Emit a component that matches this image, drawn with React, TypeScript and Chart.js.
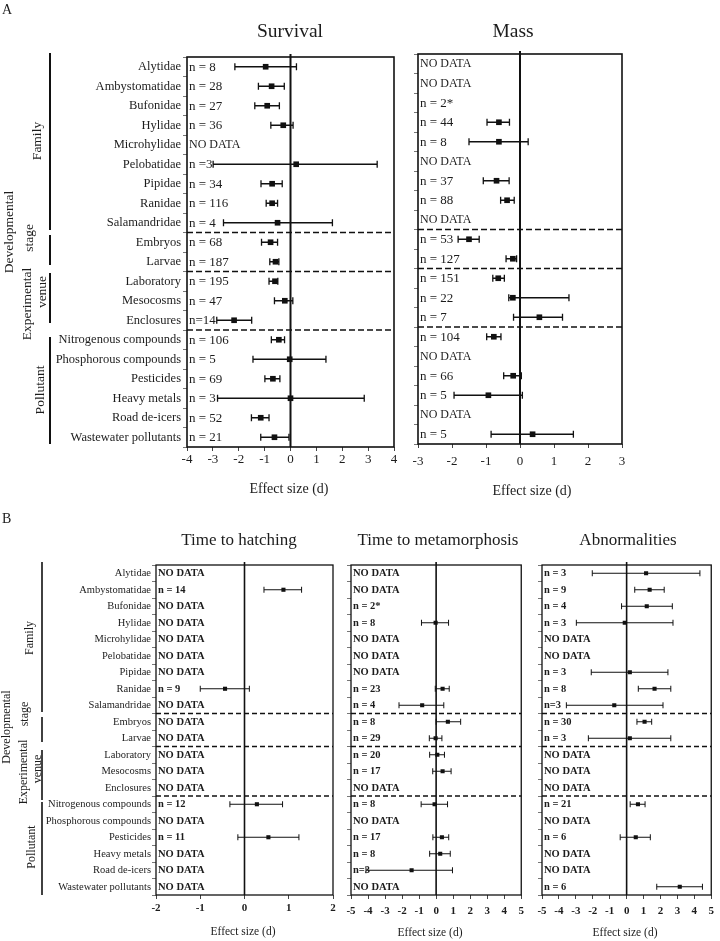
import React, { useEffect, useRef } from 'react';
import { Chart, registerables } from 'chart.js';

Chart.register(...registerables);

const SERIF = '"Liberation Serif", "Times New Roman", serif';
const INK = '#111111';
const TEXT = '#1c1c1c';

// ---------- data ----------
const categories = [
  'Alytidae', 'Ambystomatidae', 'Bufonidae', 'Hylidae', 'Microhylidae', 'Pelobatidae',
  'Pipidae', 'Ranidae', 'Salamandridae', 'Embryos', 'Larvae', 'Laboratory', 'Mesocosms',
  'Enclosures', 'Nitrogenous compounds', 'Phosphorous compounds', 'Pesticides',
  'Heavy metals', 'Road de-icers', 'Wastewater pollutants',
];
const separatorsAfter = [8, 10, 13];

const survivalN = ['n = 8', 'n = 28', 'n = 27', 'n = 36', 'NO DATA', 'n =3', 'n = 34', 'n = 116', 'n = 4',
  'n = 68', 'n = 187', 'n = 195', 'n = 47', 'n=14', 'n = 106', 'n = 5', 'n = 69', 'n = 3', 'n = 52', 'n = 21'];
const survivalMean = [-0.96, -0.73, -0.9, -0.28, null, 0.22, -0.71, -0.71, -0.5, -0.77, -0.58, -0.6, -0.22, -2.18, -0.45, -0.03, -0.68, 0, -1.15, -0.62];
const survivalLow = [-2.15, -1.24, -1.38, -0.76, null, -2.99, -1.14, -0.94, -2.59, -1.12, -0.8, -0.83, -0.62, -2.85, -0.74, -1.45, -0.99, -2.82, -1.51, -1.15];
const survivalHigh = [0.23, -0.24, -0.43, 0.1, null, 3.35, -0.32, -0.5, 1.62, -0.5, -0.45, -0.49, 0.09, -1.5, -0.23, 1.37, -0.41, 2.85, -0.83, -0.06];
const survivalTicks = [-4, -3, -2, -1, 0, 1, 2, 3, 4];

const massN = ['NO DATA', 'NO DATA', 'n = 2*', 'n = 44', 'n = 8', 'NO DATA', 'n = 37', 'n = 88', 'NO DATA',
  'n = 53', 'n = 127', 'n = 151', 'n = 22', 'n = 7', 'n = 104', 'NO DATA', 'n = 66', 'n = 5', 'NO DATA', 'n = 5'];
const massMean = [null, null, null, -0.62, -0.62, null, -0.69, -0.38, null, -1.5, -0.21, -0.64, -0.21, 0.57, -0.77, null, -0.2, -0.93, null, 0.37];
const massLow = [null, null, null, -0.97, -1.5, null, -1.08, -0.57, null, -1.82, -0.41, -0.8, -0.33, -0.19, -0.98, null, -0.48, -1.94, null, -0.85];
const massHigh = [null, null, null, -0.31, 0.24, null, -0.32, -0.17, null, -1.2, -0.1, -0.46, 1.44, 1.25, -0.56, null, 0.04, 0.07, null, 1.57];
const massTicks = [-3, -2, -1, 0, 1, 2, 3];

const hatchN = ['NO DATA', 'n = 14', 'NO DATA', 'NO DATA', 'NO DATA', 'NO DATA', 'NO DATA', 'n = 9', 'NO DATA',
  'NO DATA', 'NO DATA', 'NO DATA', 'NO DATA', 'NO DATA', 'n = 12', 'NO DATA', 'n = 11', 'NO DATA', 'NO DATA', 'NO DATA'];
const hatchMean = [null, 0.88, null, null, null, null, null, -0.44, null, null, null, null, null, null, 0.28, null, 0.54, null, null, null];
const hatchLow = [null, 0.44, null, null, null, null, null, -1.0, null, null, null, null, null, null, -0.33, null, -0.15, null, null, null];
const hatchHigh = [null, 1.29, null, null, null, null, null, 0.11, null, null, null, null, null, null, 0.86, null, 1.23, null, null, null];
const hatchTicks = [-2, -1, 0, 1, 2];

const metaN = ['NO DATA', 'NO DATA', 'n = 2*', 'n = 8', 'NO DATA', 'NO DATA', 'NO DATA', 'n = 23', 'n = 4',
  'n = 8', 'n = 29', 'n = 20', 'n = 17', 'NO DATA', 'n = 8', 'NO DATA', 'n = 17', 'n = 8', 'n=3', 'NO DATA'];
const metaMean = [null, null, null, -0.03, null, null, null, 0.38, -0.82, 0.69, -0.03, 0.07, 0.38, null, -0.09, null, 0.34, 0.24, -1.44, null];
const metaLow = [null, null, null, -0.86, null, null, null, -0.05, -2.18, 0, -0.4, -0.38, -0.2, null, -0.88, null, -0.19, -0.38, -4.12, null];
const metaHigh = [null, null, null, 0.73, null, null, null, 0.77, 0.45, 1.44, 0.34, 0.49, 0.88, null, 0.67, null, 0.74, 0.83, 0.96, null];
const fiveTicks = [-5, -4, -3, -2, -1, 0, 1, 2, 3, 4, 5];

const abnN = ['n = 3', 'n = 9', 'n = 4', 'n = 3', 'NO DATA', 'NO DATA', 'n = 3', 'n = 8', 'n=3',
  'n = 30', 'n = 3', 'NO DATA', 'NO DATA', 'NO DATA', 'n = 21', 'NO DATA', 'n = 6', 'NO DATA', 'NO DATA', 'n = 6'];
const abnMean = [1.15, 1.36, 1.19, -0.11, null, null, 0.19, 1.65, -0.73, 1.06, 0.19, null, null, null, 0.67, null, 0.54, null, null, 3.14];
const abnLow = [-2.03, 0.48, -0.3, -2.97, null, null, -2.09, 0.69, -3.56, 0.61, -2.26, null, null, null, 0.21, null, -0.38, null, null, 1.78];
const abnHigh = [4.33, 2.22, 2.7, 2.74, null, null, 2.44, 2.61, 2.15, 1.48, 2.61, null, null, null, 1.09, null, 1.4, null, null, 4.48];

// ---------- styles ----------
type Style = {
  nSize: number; noDataSize: number; nWeight: string; catSize: number; catWeight: string;
  tickSize: number; tickWeight: string; titleSize: number; axisTitleSize: number; groupSize: number;
  boxW: number; zeroW: number; sepW: number; dash: number[]; barW: number; cap: number;
  markerR: number; groupLineW: number; zeroOver: number;
};
const styleA: Style = {
  nSize: 13, noDataSize: 12, nWeight: 'normal', catSize: 12.5, catWeight: 'normal',
  tickSize: 13, tickWeight: 'normal', titleSize: 19.5, axisTitleSize: 14, groupSize: 13.5,
  boxW: 1.6, zeroW: 2, sepW: 1.6, dash: [6, 3], barW: 1.3, cap: 3.5, markerR: 4, groupLineW: 2, zeroOver: 3,
};
const styleB: Style = {
  nSize: 10.5, noDataSize: 10.5, nWeight: 'bold', catSize: 10.5, catWeight: 'normal',
  tickSize: 11, tickWeight: 'bold', titleSize: 17, axisTitleSize: 11.5, groupSize: 12,
  boxW: 1.3, zeroW: 1.6, sepW: 1.3, dash: [5, 3], barW: 1, cap: 3, markerR: 2.9, groupLineW: 1.6, zeroOver: 3,
};

type Line = { text: string; x: number; cy: number };
type Group = { lines: Line[]; lineX: number; y0: number; y1: number };

interface PanelSpec {
  key: string;
  left: number; top: number; width: number; height: number;
  area: { left: number; right: number; top: number; bottom: number };
  ticks: number[];
  tickPad: number;
  catPad: number;
  mean: (number | null)[]; low: (number | null)[]; high: (number | null)[]; n: string[];
  showCats: boolean;
  style: Style;
  title: { text: string; x: number; y: number };
  axisTitle: { text: string; x: number; y: number };
  groups?: Group[];
  letter?: { text: string; x: number; y: number; size: number };
}

const groupsA: Group[] = [
  { lines: [{ text: 'Family', x: 37, cy: 141 }], lineX: 50, y0: 53, y1: 230 },
  { lines: [{ text: 'Developmental', x: 9, cy: 232 }, { text: 'stage', x: 29, cy: 238 }], lineX: 50, y0: 235, y1: 265 },
  { lines: [{ text: 'Experimental', x: 27, cy: 304 }, { text: 'venue', x: 42, cy: 292 }], lineX: 50, y0: 273, y1: 323 },
  { lines: [{ text: 'Pollutant', x: 40, cy: 390 }], lineX: 50, y0: 337, y1: 444 },
];
const groupsB: Group[] = [
  { lines: [{ text: 'Family', x: 30, cy: 138 }], lineX: 42, y0: 62, y1: 212 },
  { lines: [{ text: 'Developmental', x: 7, cy: 227 }, { text: 'stage', x: 25, cy: 214 }], lineX: 42, y0: 217, y1: 242 },
  { lines: [{ text: 'Experimental', x: 24, cy: 272 }, { text: 'venue', x: 38, cy: 269 }], lineX: 42, y0: 250, y1: 300 },
  { lines: [{ text: 'Pollutant', x: 32, cy: 347 }], lineX: 42, y0: 302, y1: 395 },
];

const panels: PanelSpec[] = [
  {
    key: 'survival', left: 0, top: 0, width: 400, height: 500,
    area: { left: 187, right: 394, top: 57, bottom: 447 }, ticks: survivalTicks, tickPad: 1, catPad: 2,
    mean: survivalMean, low: survivalLow, high: survivalHigh, n: survivalN, showCats: true, style: styleA,
    title: { text: 'Survival', x: 290, y: 32 }, axisTitle: { text: 'Effect size (d)', x: 289, y: 489 },
    groups: groupsA, letter: { text: 'A', x: 2, y: 3, size: 14 },
  },
  {
    key: 'mass', left: 400, top: 0, width: 320, height: 500,
    area: { left: 18, right: 222, top: 54, bottom: 444 }, ticks: massTicks, tickPad: 6, catPad: 2,
    mean: massMean, low: massLow, high: massHigh, n: massN, showCats: false, style: styleA,
    title: { text: 'Mass', x: 113, y: 32 }, axisTitle: { text: 'Effect size (d)', x: 132, y: 491 },
  },
  {
    key: 'hatch', left: 0, top: 500, width: 340, height: 441,
    area: { left: 156, right: 333, top: 65, bottom: 395 }, ticks: hatchTicks, tickPad: 3, catPad: 1,
    mean: hatchMean, low: hatchLow, high: hatchHigh, n: hatchN, showCats: true, style: styleB,
    title: { text: 'Time to hatching', x: 239, y: 41 }, axisTitle: { text: 'Effect size (d)', x: 243, y: 432 },
    groups: groupsB, letter: { text: 'B', x: 2, y: 12, size: 14 },
  },
  {
    key: 'meta', left: 340, top: 500, width: 190, height: 441,
    area: { left: 11, right: 184, top: 65, bottom: 395 }, ticks: fiveTicks, tickPad: 6, catPad: 1,
    mean: metaMean, low: metaLow, high: metaHigh, n: metaN, showCats: false, style: styleB,
    title: { text: 'Time to metamorphosis', x: 98, y: 41 }, axisTitle: { text: 'Effect size (d)', x: 90, y: 433 },
  },
  {
    key: 'abn', left: 530, top: 500, width: 190, height: 441,
    area: { left: 12, right: 187, top: 65, bottom: 395 }, ticks: fiveTicks, tickPad: 6, catPad: 1,
    mean: abnMean, low: abnLow, high: abnHigh, n: abnN, showCats: false, style: styleB,
    title: { text: 'Abnormalities', x: 98, y: 41 }, axisTitle: { text: 'Effect size (d)', x: 95, y: 433 },
  },
];

function font(weight: string, size: number) {
  return `${weight} ${size}px ${SERIF}`;
}

function forestPlugin(p: PanelSpec) {
  const s = p.style;
  return {
    id: 'forest-' + p.key,
    beforeDatasetsDraw(chart: any) {
      const { ctx, chartArea: a } = chart;
      const xs = chart.scales.x;
      const ys = chart.scales.y;
      ctx.save();
      ctx.strokeStyle = INK;
      // dashed separators between groups
      ctx.lineWidth = s.sepW;
      ctx.setLineDash(s.dash);
      for (const b of separatorsAfter) {
        const yy = (ys.getPixelForValue(b) + ys.getPixelForValue(b + 1)) / 2;
        ctx.beginPath();
        ctx.moveTo(a.left, yy);
        ctx.lineTo(a.right, yy);
        ctx.stroke();
      }
      ctx.setLineDash([]);
      // zero line
      const x0 = xs.getPixelForValue(0);
      ctx.lineWidth = s.zeroW;
      ctx.beginPath();
      ctx.moveTo(x0, a.top - s.zeroOver);
      ctx.lineTo(x0, a.bottom);
      ctx.stroke();
      // confidence intervals
      ctx.lineWidth = s.barW;
      p.mean.forEach((m, i) => {
        if (m == null || p.low[i] == null || p.high[i] == null) return;
        const yy = ys.getPixelForValue(i);
        const xl = xs.getPixelForValue(p.low[i]);
        const xh = xs.getPixelForValue(p.high[i]);
        ctx.beginPath();
        ctx.moveTo(xl, yy); ctx.lineTo(xh, yy);
        ctx.moveTo(xl, yy - s.cap); ctx.lineTo(xl, yy + s.cap);
        ctx.moveTo(xh, yy - s.cap); ctx.lineTo(xh, yy + s.cap);
        ctx.stroke();
      });
      ctx.restore();
    },
    afterDraw(chart: any) {
      const { ctx, chartArea: a } = chart;
      const ys = chart.scales.y;
      ctx.save();
      // frame
      ctx.strokeStyle = INK;
      ctx.lineWidth = s.boxW;
      ctx.strokeRect(a.left, a.top, a.right - a.left, a.bottom - a.top);
      // n labels
      ctx.fillStyle = TEXT;
      ctx.textAlign = 'left';
      ctx.textBaseline = 'middle';
      p.n.forEach((t, i) => {
        const yy = ys.getPixelForValue(i);
        ctx.font = font(s.nWeight, t === 'NO DATA' ? s.noDataSize : s.nSize);
        ctx.fillText(t, a.left + 2, yy + 0.5);
      });
      // panel title
      ctx.textAlign = 'center';
      ctx.font = font('normal', s.titleSize);
      ctx.fillText(p.title.text, p.title.x, p.title.y);
      // axis title
      ctx.font = font('normal', s.axisTitleSize);
      ctx.fillText(p.axisTitle.text, p.axisTitle.x, p.axisTitle.y);
      // group labels with brackets
      if (p.groups) {
        ctx.font = font('normal', s.groupSize);
        ctx.lineWidth = s.groupLineW;
        for (const g of p.groups) {
          ctx.beginPath();
          ctx.moveTo(g.lineX, g.y0);
          ctx.lineTo(g.lineX, g.y1);
          ctx.stroke();
          for (const l of g.lines) {
            ctx.save();
            ctx.translate(l.x, l.cy);
            ctx.rotate(-Math.PI / 2);
            ctx.fillText(l.text, 0, 0);
            ctx.restore();
          }
        }
      }
      if (p.letter) {
        ctx.textAlign = 'left';
        ctx.textBaseline = 'top';
        ctx.font = font('normal', p.letter.size);
        ctx.fillText(p.letter.text, p.letter.x, p.letter.y);
      }
      ctx.restore();
    },
  };
}

function Panel({ spec }: { spec: PanelSpec }) {
  const ref = useRef<HTMLCanvasElement | null>(null);
  useEffect(() => {
    if (!ref.current) return;
    const s = spec.style;
    const points: { x: number; y: string }[] = [];
    spec.mean.forEach((m, i) => {
      if (m != null) points.push({ x: m, y: categories[i] });
    });
    const chart = new Chart(ref.current, {
      type: 'scatter',
      data: {
        labels: categories,
        datasets: [{
          data: points as any,
          pointStyle: 'rect',
          pointRadius: s.markerR,
          backgroundColor: INK,
          borderColor: INK,
          borderWidth: 0,
        }],
      },
      options: {
        responsive: false,
        animation: false,
        devicePixelRatio: 1,
        events: [],
        layout: { padding: { left: 0, top: spec.area.top, right: spec.width - spec.area.right, bottom: 0 } },
        plugins: { legend: { display: false }, tooltip: { enabled: false }, title: { display: false } },
        scales: {
          x: {
            type: 'linear',
            position: 'bottom',
            min: spec.ticks[0],
            max: spec.ticks[spec.ticks.length - 1],
            afterBuildTicks: (sc: any) => { sc.ticks = spec.ticks.map((v) => ({ value: v })); },
            afterFit: (sc: any) => { sc.height = spec.height - spec.area.bottom; },
            ticks: {
              autoSkip: false,
              maxRotation: 0,
              padding: spec.tickPad,
              color: TEXT,
              font: { family: SERIF, size: s.tickSize, weight: s.tickWeight as any },
            },
            grid: { drawOnChartArea: false, drawTicks: true, tickLength: 4, color: '#444' },
            border: { display: false },
          },
          y: {
            type: 'category',
            labels: categories,
            offset: true,
            afterFit: (sc: any) => { sc.width = spec.area.left; },
            ticks: {
              display: spec.showCats,
              autoSkip: false,
              padding: spec.catPad,
              color: TEXT,
              font: { family: SERIF, size: s.catSize, weight: s.catWeight as any },
            },
            grid: { offset: true, drawOnChartArea: false, drawTicks: true, tickLength: 4, color: '#777' },
            border: { display: false },
          },
        },
      },
      plugins: [forestPlugin(spec) as any],
    } as any);
    return () => chart.destroy();
  }, [spec]);
  return (
    <canvas
      ref={ref}
      width={spec.width}
      height={spec.height}
      style={{ position: 'absolute', left: spec.left, top: spec.top, width: spec.width, height: spec.height }}
    />
  );
}

export default function App() {
  return (
    <div style={{ position: 'absolute', left: 0, top: 0, width: 720, height: 941, background: '#fff', overflow: 'hidden' }}>
      {panels.map((p) => (
        <Panel key={p.key} spec={p} />
      ))}
    </div>
  );
}
